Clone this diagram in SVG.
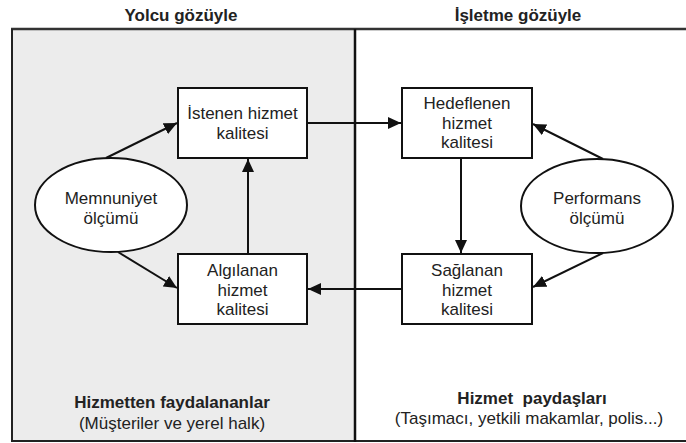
<svg xmlns="http://www.w3.org/2000/svg" width="686" height="443" viewBox="0 0 686 443">
<style>
text{font-family:"Liberation Sans",Arial,sans-serif;font-size:17px;fill:#222;text-anchor:middle}
.b{font-weight:bold}
.node rect,.node ellipse{fill:#fff;stroke:#111;stroke-width:2}
.conn line{stroke:#111;stroke-width:2;marker-end:url(#ah)}
</style>
<defs>
<marker id="ah" markerUnits="userSpaceOnUse" markerWidth="14" markerHeight="12" refX="13" refY="6" orient="auto">
<path d="M0,0 L13,6 L0,12 Z" fill="#111"/>
</marker>
</defs>
<rect x="0" y="0" width="686" height="443" fill="#fff"/>
<g id="frame">
<rect x="12" y="29" width="343" height="412" fill="#ececec"/>
<line x1="11" y1="29" x2="686" y2="29" stroke="#333" stroke-width="2.5"/>
<line x1="11" y1="441" x2="686" y2="441" stroke="#222" stroke-width="2"/>
<line x1="12" y1="29" x2="12" y2="442" stroke="#222" stroke-width="2"/>
<line x1="355" y1="29" x2="355" y2="442" stroke="#111" stroke-width="2.5"/>
</g>
<g id="headers">
<text class="b" x="181" y="21">Yolcu gözüyle</text>
<text class="b" x="518" y="21">İşletme gözüyle</text>
</g>
<g id="footers">
<text class="b" x="172" y="408">Hizmetten faydalananlar</text>
<text x="172" y="429">(Müşteriler ve yerel halk)</text>
<text class="b" x="532" y="404" style="white-space:pre">Hizmet  paydaşları</text>
<text x="529" y="424">(Taşımacı, yetkili makamlar, polis...)</text>
</g>
<g id="istenen" class="node">
<rect x="178" y="88" width="129" height="70"/>
<text x="242.5" y="119">İstenen hizmet</text>
<text x="242.5" y="139">kalitesi</text>
</g>
<g id="algilanan" class="node">
<rect x="178" y="254" width="129" height="70"/>
<text x="242.5" y="276">Algılanan</text>
<text x="242.5" y="296">hizmet</text>
<text x="242.5" y="315">kalitesi</text>
</g>
<g id="hedeflenen" class="node">
<rect x="402" y="88" width="130" height="70"/>
<text x="467" y="109">Hedeflenen</text>
<text x="467" y="129">hizmet</text>
<text x="467" y="148">kalitesi</text>
</g>
<g id="saglanan" class="node">
<rect x="402" y="254" width="130" height="70"/>
<text x="467" y="276">Sağlanan</text>
<text x="467" y="296">hizmet</text>
<text x="467" y="315">kalitesi</text>
</g>
<g id="memnuniyet" class="node">
<ellipse cx="111" cy="205" rx="76" ry="47"/>
<text x="111" y="204">Memnuniyet</text>
<text x="111" y="224">ölçümü</text>
</g>
<g id="performans" class="node">
<ellipse cx="597" cy="206" rx="76" ry="47"/>
<text x="597" y="204">Performans</text>
<text x="597" y="224">ölçümü</text>
</g>
<g id="connectors" class="conn">
<line x1="106" y1="158" x2="177" y2="123"/>
<line x1="118" y1="252" x2="177" y2="288"/>
<line x1="248" y1="254" x2="248" y2="159"/>
<line x1="307" y1="123" x2="401" y2="123"/>
<line x1="461" y1="158" x2="461" y2="253"/>
<line x1="603" y1="159" x2="533" y2="124"/>
<line x1="603" y1="253" x2="533" y2="287"/>
<line x1="402" y1="289" x2="308" y2="289"/>
</g>
</svg>
